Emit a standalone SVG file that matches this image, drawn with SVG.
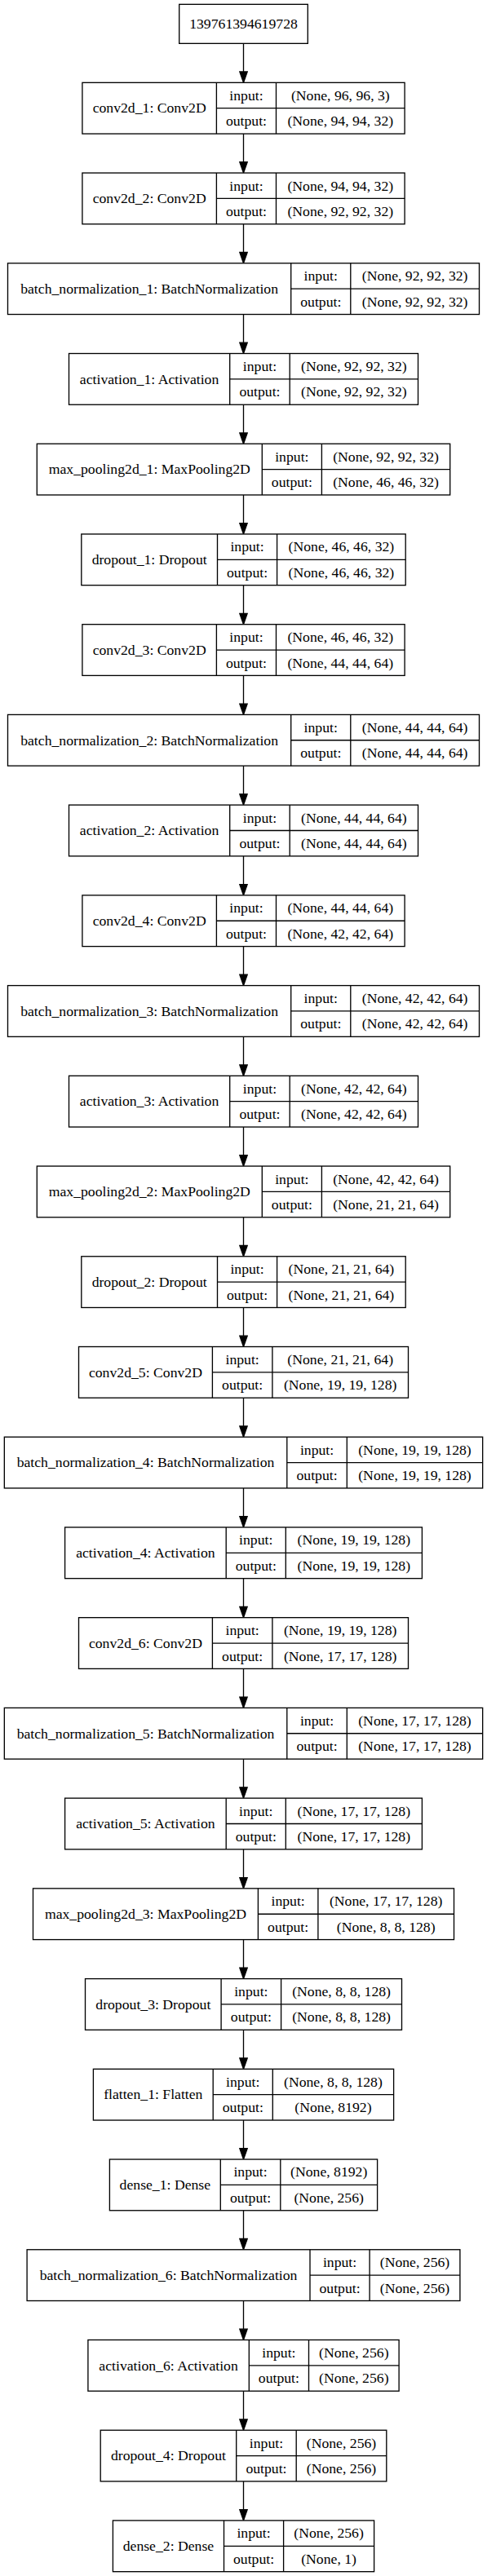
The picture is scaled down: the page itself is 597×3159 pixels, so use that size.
<svg xmlns="http://www.w3.org/2000/svg" width="597" height="3159" viewBox="0 0 597 3159">
<style>
.n rect{fill:#fff;stroke:#000;stroke-width:1.33}
.n path{fill:none;stroke:#000;stroke-width:1.33}
text{font-family:"Liberation Serif","Times New Roman",serif;font-size:17.7px;text-anchor:middle;fill:#000}
#edges path{fill:none;stroke:#000;stroke-width:1.33;marker-end:url(#ah)}
</style>
<defs>
<marker id="ah" markerUnits="userSpaceOnUse" viewBox="-1 -1 15.5 11.5" refX="0" refY="4.67" markerWidth="15.5" markerHeight="11.5" orient="auto">
<path d="M0,0L13.33,4.67L0,9.33Z" fill="#000" stroke="#000" stroke-width="1.33"/>
</marker>
</defs>
<rect x="0" y="0" width="597" height="3159" fill="#fff"/>
<g id="edges">
<path d="M298.5,53.33v34.67"/>
<path d="M298.5,164.06v34.67"/>
<path d="M298.5,274.79v34.67"/>
<path d="M298.5,385.51v34.67"/>
<path d="M298.5,496.24v34.67"/>
<path d="M298.5,606.96v34.67"/>
<path d="M298.5,717.69v34.67"/>
<path d="M298.5,828.42v34.67"/>
<path d="M298.5,939.14v34.67"/>
<path d="M298.5,1049.87v34.67"/>
<path d="M298.5,1160.59v34.67"/>
<path d="M298.5,1271.32v34.67"/>
<path d="M298.5,1382.05v34.67"/>
<path d="M298.5,1492.77v34.67"/>
<path d="M298.5,1603.50v34.67"/>
<path d="M298.5,1714.22v34.67"/>
<path d="M298.5,1824.95v34.67"/>
<path d="M298.5,1935.68v34.67"/>
<path d="M298.5,2046.40v34.67"/>
<path d="M298.5,2157.13v34.67"/>
<path d="M298.5,2267.85v34.67"/>
<path d="M298.5,2378.58v34.67"/>
<path d="M298.5,2489.31v34.67"/>
<path d="M298.5,2600.03v34.67"/>
<path d="M298.5,2710.76v34.67"/>
<path d="M298.5,2821.48v34.67"/>
<path d="M298.5,2932.21v34.67"/>
<path d="M298.5,3042.94v34.67"/>
</g>
<g id="input_node" class="n">
<rect x="219.7" y="5.33" width="157.6" height="48"/>
<text x="298.5" y="35.1">139761394619728</text>
</g>
<g id="conv2d_1" class="n" transform="translate(0,101.33)">
<rect x="100.9" y="0" width="395.2" height="62.73"/>
<path d="M265.4,0V62.73M338.5,0V62.73M265.4,31.36H496.1"/>
<text x="183.15" y="37.16">conv2d_1: Conv2D</text>
<text x="301.95" y="21.48">input:</text>
<text x="301.95" y="52.84">output:</text>
<text x="417.3" y="21.48">(None, 96, 96, 3)</text>
<text x="417.3" y="52.84">(None, 94, 94, 32)</text>
</g>
<g id="conv2d_2" class="n" transform="translate(0,212.06)">
<rect x="100.9" y="0" width="395.2" height="62.73"/>
<path d="M265.4,0V62.73M338.5,0V62.73M265.4,31.36H496.1"/>
<text x="183.15" y="37.16">conv2d_2: Conv2D</text>
<text x="301.95" y="21.48">input:</text>
<text x="301.95" y="52.84">output:</text>
<text x="417.3" y="21.48">(None, 94, 94, 32)</text>
<text x="417.3" y="52.84">(None, 92, 92, 32)</text>
</g>
<g id="batch_normalization_1" class="n" transform="translate(0,322.79)">
<rect x="9.5" y="0" width="578" height="62.73"/>
<path d="M356.7,0V62.73M429.8,0V62.73M356.7,31.36H587.5"/>
<text x="183.1" y="37.16">batch_normalization_1: BatchNormalization</text>
<text x="393.25" y="21.48">input:</text>
<text x="393.25" y="52.84">output:</text>
<text x="508.65" y="21.48">(None, 92, 92, 32)</text>
<text x="508.65" y="52.84">(None, 92, 92, 32)</text>
</g>
<g id="activation_1" class="n" transform="translate(0,433.51)">
<rect x="84.5" y="0" width="428" height="62.73"/>
<path d="M281.7,0V62.73M355.2,0V62.73M281.7,31.36H512.5"/>
<text x="183.1" y="37.16">activation_1: Activation</text>
<text x="318.45" y="21.48">input:</text>
<text x="318.45" y="52.84">output:</text>
<text x="433.85" y="21.48">(None, 92, 92, 32)</text>
<text x="433.85" y="52.84">(None, 92, 92, 32)</text>
</g>
<g id="max_pooling2d_1" class="n" transform="translate(0,544.24)">
<rect x="45.3" y="0" width="506.4" height="62.73"/>
<path d="M321.3,0V62.73M394.4,0V62.73M321.3,31.36H551.7"/>
<text x="183.3" y="37.16">max_pooling2d_1: MaxPooling2D</text>
<text x="357.85" y="21.48">input:</text>
<text x="357.85" y="52.84">output:</text>
<text x="473.05" y="21.48">(None, 92, 92, 32)</text>
<text x="473.05" y="52.84">(None, 46, 46, 32)</text>
</g>
<g id="dropout_1" class="n" transform="translate(0,654.96)">
<rect x="99.8" y="0" width="397.4" height="62.73"/>
<path d="M266.5,0V62.73M339.6,0V62.73M266.5,31.36H497.2"/>
<text x="183.15" y="37.16">dropout_1: Dropout</text>
<text x="303.05" y="21.48">input:</text>
<text x="303.05" y="52.84">output:</text>
<text x="418.4" y="21.48">(None, 46, 46, 32)</text>
<text x="418.4" y="52.84">(None, 46, 46, 32)</text>
</g>
<g id="conv2d_3" class="n" transform="translate(0,765.69)">
<rect x="100.9" y="0" width="395.2" height="62.73"/>
<path d="M265.4,0V62.73M338.5,0V62.73M265.4,31.36H496.1"/>
<text x="183.15" y="37.16">conv2d_3: Conv2D</text>
<text x="301.95" y="21.48">input:</text>
<text x="301.95" y="52.84">output:</text>
<text x="417.3" y="21.48">(None, 46, 46, 32)</text>
<text x="417.3" y="52.84">(None, 44, 44, 64)</text>
</g>
<g id="batch_normalization_2" class="n" transform="translate(0,876.42)">
<rect x="9.5" y="0" width="578" height="62.73"/>
<path d="M356.7,0V62.73M429.8,0V62.73M356.7,31.36H587.5"/>
<text x="183.1" y="37.16">batch_normalization_2: BatchNormalization</text>
<text x="393.25" y="21.48">input:</text>
<text x="393.25" y="52.84">output:</text>
<text x="508.65" y="21.48">(None, 44, 44, 64)</text>
<text x="508.65" y="52.84">(None, 44, 44, 64)</text>
</g>
<g id="activation_2" class="n" transform="translate(0,987.14)">
<rect x="84.5" y="0" width="428" height="62.73"/>
<path d="M281.7,0V62.73M355.2,0V62.73M281.7,31.36H512.5"/>
<text x="183.1" y="37.16">activation_2: Activation</text>
<text x="318.45" y="21.48">input:</text>
<text x="318.45" y="52.84">output:</text>
<text x="433.85" y="21.48">(None, 44, 44, 64)</text>
<text x="433.85" y="52.84">(None, 44, 44, 64)</text>
</g>
<g id="conv2d_4" class="n" transform="translate(0,1097.87)">
<rect x="100.9" y="0" width="395.2" height="62.73"/>
<path d="M265.4,0V62.73M338.5,0V62.73M265.4,31.36H496.1"/>
<text x="183.15" y="37.16">conv2d_4: Conv2D</text>
<text x="301.95" y="21.48">input:</text>
<text x="301.95" y="52.84">output:</text>
<text x="417.3" y="21.48">(None, 44, 44, 64)</text>
<text x="417.3" y="52.84">(None, 42, 42, 64)</text>
</g>
<g id="batch_normalization_3" class="n" transform="translate(0,1208.59)">
<rect x="9.5" y="0" width="578" height="62.73"/>
<path d="M356.7,0V62.73M429.8,0V62.73M356.7,31.36H587.5"/>
<text x="183.1" y="37.16">batch_normalization_3: BatchNormalization</text>
<text x="393.25" y="21.48">input:</text>
<text x="393.25" y="52.84">output:</text>
<text x="508.65" y="21.48">(None, 42, 42, 64)</text>
<text x="508.65" y="52.84">(None, 42, 42, 64)</text>
</g>
<g id="activation_3" class="n" transform="translate(0,1319.32)">
<rect x="84.5" y="0" width="428" height="62.73"/>
<path d="M281.7,0V62.73M355.2,0V62.73M281.7,31.36H512.5"/>
<text x="183.1" y="37.16">activation_3: Activation</text>
<text x="318.45" y="21.48">input:</text>
<text x="318.45" y="52.84">output:</text>
<text x="433.85" y="21.48">(None, 42, 42, 64)</text>
<text x="433.85" y="52.84">(None, 42, 42, 64)</text>
</g>
<g id="max_pooling2d_2" class="n" transform="translate(0,1430.05)">
<rect x="45.3" y="0" width="506.4" height="62.73"/>
<path d="M321.3,0V62.73M394.4,0V62.73M321.3,31.36H551.7"/>
<text x="183.3" y="37.16">max_pooling2d_2: MaxPooling2D</text>
<text x="357.85" y="21.48">input:</text>
<text x="357.85" y="52.84">output:</text>
<text x="473.05" y="21.48">(None, 42, 42, 64)</text>
<text x="473.05" y="52.84">(None, 21, 21, 64)</text>
</g>
<g id="dropout_2" class="n" transform="translate(0,1540.77)">
<rect x="99.8" y="0" width="397.4" height="62.73"/>
<path d="M266.5,0V62.73M339.6,0V62.73M266.5,31.36H497.2"/>
<text x="183.15" y="37.16">dropout_2: Dropout</text>
<text x="303.05" y="21.48">input:</text>
<text x="303.05" y="52.84">output:</text>
<text x="418.4" y="21.48">(None, 21, 21, 64)</text>
<text x="418.4" y="52.84">(None, 21, 21, 64)</text>
</g>
<g id="conv2d_5" class="n" transform="translate(0,1651.50)">
<rect x="96.5" y="0" width="404" height="62.73"/>
<path d="M260.4,0V62.73M333.9,0V62.73M260.4,31.36H500.5"/>
<text x="178.45" y="37.16">conv2d_5: Conv2D</text>
<text x="297.15" y="21.48">input:</text>
<text x="297.15" y="52.84">output:</text>
<text x="417.2" y="21.48">(None, 21, 21, 64)</text>
<text x="417.2" y="52.84">(None, 19, 19, 128)</text>
</g>
<g id="batch_normalization_4" class="n" transform="translate(0,1762.22)">
<rect x="5.33" y="0" width="586.34" height="62.73"/>
<path d="M351.8,0V62.73M425.3,0V62.73M351.8,31.36H591.67"/>
<text x="178.57" y="37.16">batch_normalization_4: BatchNormalization</text>
<text x="388.55" y="21.48">input:</text>
<text x="388.55" y="52.84">output:</text>
<text x="508.49" y="21.48">(None, 19, 19, 128)</text>
<text x="508.49" y="52.84">(None, 19, 19, 128)</text>
</g>
<g id="activation_4" class="n" transform="translate(0,1872.95)">
<rect x="79.6" y="0" width="437.8" height="62.73"/>
<path d="M277.2,0V62.73M350.3,0V62.73M277.2,31.36H517.4"/>
<text x="178.4" y="37.16">activation_4: Activation</text>
<text x="313.75" y="21.48">input:</text>
<text x="313.75" y="52.84">output:</text>
<text x="433.85" y="21.48">(None, 19, 19, 128)</text>
<text x="433.85" y="52.84">(None, 19, 19, 128)</text>
</g>
<g id="conv2d_6" class="n" transform="translate(0,1983.68)">
<rect x="96.5" y="0" width="404" height="62.73"/>
<path d="M260.4,0V62.73M333.9,0V62.73M260.4,31.36H500.5"/>
<text x="178.45" y="37.16">conv2d_6: Conv2D</text>
<text x="297.15" y="21.48">input:</text>
<text x="297.15" y="52.84">output:</text>
<text x="417.2" y="21.48">(None, 19, 19, 128)</text>
<text x="417.2" y="52.84">(None, 17, 17, 128)</text>
</g>
<g id="batch_normalization_5" class="n" transform="translate(0,2094.40)">
<rect x="5.33" y="0" width="586.34" height="62.73"/>
<path d="M351.8,0V62.73M425.3,0V62.73M351.8,31.36H591.67"/>
<text x="178.57" y="37.16">batch_normalization_5: BatchNormalization</text>
<text x="388.55" y="21.48">input:</text>
<text x="388.55" y="52.84">output:</text>
<text x="508.49" y="21.48">(None, 17, 17, 128)</text>
<text x="508.49" y="52.84">(None, 17, 17, 128)</text>
</g>
<g id="activation_5" class="n" transform="translate(0,2205.13)">
<rect x="79.6" y="0" width="437.8" height="62.73"/>
<path d="M277.2,0V62.73M350.3,0V62.73M277.2,31.36H517.4"/>
<text x="178.4" y="37.16">activation_5: Activation</text>
<text x="313.75" y="21.48">input:</text>
<text x="313.75" y="52.84">output:</text>
<text x="433.85" y="21.48">(None, 17, 17, 128)</text>
<text x="433.85" y="52.84">(None, 17, 17, 128)</text>
</g>
<g id="max_pooling2d_3" class="n" transform="translate(0,2315.85)">
<rect x="40.5" y="0" width="516" height="62.73"/>
<path d="M316.4,0V62.73M389.9,0V62.73M316.4,31.36H556.5"/>
<text x="178.45" y="37.16">max_pooling2d_3: MaxPooling2D</text>
<text x="353.15" y="21.48">input:</text>
<text x="353.15" y="52.84">output:</text>
<text x="473.2" y="21.48">(None, 17, 17, 128)</text>
<text x="473.2" y="52.84">(None, 8, 8, 128)</text>
</g>
<g id="dropout_3" class="n" transform="translate(0,2426.58)">
<rect x="104.5" y="0" width="388" height="62.73"/>
<path d="M271.1,0V62.73M344.6,0V62.73M271.1,31.36H492.5"/>
<text x="187.8" y="37.16">dropout_3: Dropout</text>
<text x="307.85" y="21.48">input:</text>
<text x="307.85" y="52.84">output:</text>
<text x="418.55" y="21.48">(None, 8, 8, 128)</text>
<text x="418.55" y="52.84">(None, 8, 8, 128)</text>
</g>
<g id="flatten_1" class="n" transform="translate(0,2537.31)">
<rect x="114.4" y="0" width="368.2" height="62.73"/>
<path d="M261.2,0V62.73M334.3,0V62.73M261.2,31.36H482.6"/>
<text x="187.8" y="37.16">flatten_1: Flatten</text>
<text x="297.75" y="21.48">input:</text>
<text x="297.75" y="52.84">output:</text>
<text x="408.45" y="21.48">(None, 8, 8, 128)</text>
<text x="408.45" y="52.84">(None, 8192)</text>
</g>
<g id="dense_1" class="n" transform="translate(0,2648.03)">
<rect x="134.4" y="0" width="328.2" height="62.73"/>
<path d="M270.3,0V62.73M343.8,0V62.73M270.3,31.36H462.6"/>
<text x="202.35" y="37.16">dense_1: Dense</text>
<text x="307.05" y="21.48">input:</text>
<text x="307.05" y="52.84">output:</text>
<text x="403.2" y="21.48">(None, 8192)</text>
<text x="403.2" y="52.84">(None, 256)</text>
</g>
<g id="batch_normalization_6" class="n" transform="translate(0,2758.76)">
<rect x="33.1" y="0" width="530.8" height="62.73"/>
<path d="M380,0V62.73M453.1,0V62.73M380,31.36H563.9"/>
<text x="206.55" y="37.16">batch_normalization_6: BatchNormalization</text>
<text x="416.55" y="21.48">input:</text>
<text x="416.55" y="52.84">output:</text>
<text x="508.5" y="21.48">(None, 256)</text>
<text x="508.5" y="52.84">(None, 256)</text>
</g>
<g id="activation_6" class="n" transform="translate(0,2869.48)">
<rect x="107.9" y="0" width="381.2" height="62.73"/>
<path d="M305.3,0V62.73M378.5,0V62.73M305.3,31.36H489.1"/>
<text x="206.6" y="37.16">activation_6: Activation</text>
<text x="341.9" y="21.48">input:</text>
<text x="341.9" y="52.84">output:</text>
<text x="433.8" y="21.48">(None, 256)</text>
<text x="433.8" y="52.84">(None, 256)</text>
</g>
<g id="dropout_4" class="n" transform="translate(0,2980.21)">
<rect x="123.2" y="0" width="350.6" height="62.73"/>
<path d="M289.7,0V62.73M363.2,0V62.73M289.7,31.36H473.8"/>
<text x="206.45" y="37.16">dropout_4: Dropout</text>
<text x="326.45" y="21.48">input:</text>
<text x="326.45" y="52.84">output:</text>
<text x="418.5" y="21.48">(None, 256)</text>
<text x="418.5" y="52.84">(None, 256)</text>
</g>
<g id="dense_2" class="n" transform="translate(0,3090.94)">
<rect x="138.4" y="0" width="320.2" height="62.73"/>
<path d="M274.5,0V62.73M347.6,0V62.73M274.5,31.36H458.6"/>
<text x="206.45" y="37.16">dense_2: Dense</text>
<text x="311.05" y="21.48">input:</text>
<text x="311.05" y="52.84">output:</text>
<text x="403.1" y="21.48">(None, 256)</text>
<text x="403.1" y="52.84">(None, 1)</text>
</g>
</svg>
